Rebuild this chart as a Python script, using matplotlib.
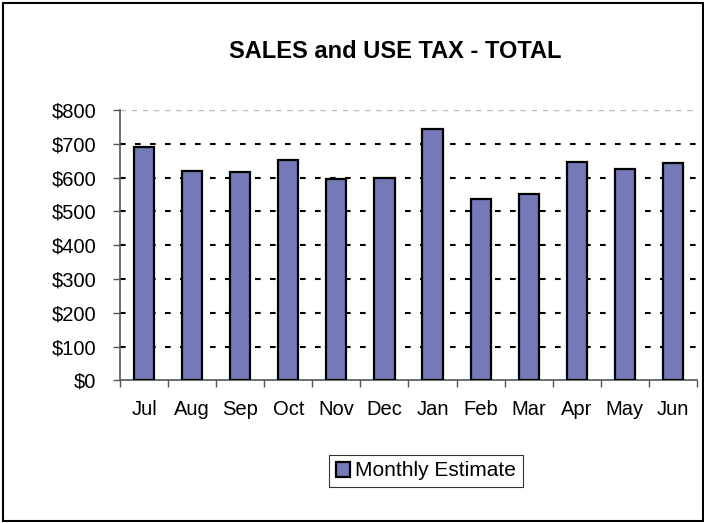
import matplotlib
matplotlib.use('Agg')
import matplotlib.pyplot as plt
from matplotlib.patches import Rectangle
import numpy as np

months = ['Jul', 'Aug', 'Sep', 'Oct', 'Nov', 'Dec', 'Jan', 'Feb', 'Mar', 'Apr', 'May', 'Jun']
monthly_estimate = [692, 621, 618, 653, 597, 600, 744, 538, 551, 645, 624, 644]
y_ticks = [0, 100, 200, 300, 400, 500, 600, 700, 800]

BAR_CLR = '#7579B8'
AXIS_CLR = '#555555'

plt.rcParams['font.family'] = ['Liberation Sans', 'DejaVu Sans']

fig = plt.figure(figsize=(7.04, 5.23), dpi=100)
ax = fig.add_axes([0.1705, 0.2725, 0.8195, 0.5172])

x = np.arange(len(months))
ax.bar(x, monthly_estimate, width=0.42, color=BAR_CLR, edgecolor='black',
       linewidth=1.6, zorder=3, label='Monthly Estimate')

for v in y_ticks[1:-1]:
    ax.axhline(v, color='black', lw=1.5, ls=(0, (2.7, 4.5)), zorder=1)
ax.axhline(y_ticks[-1], color='#bbbbbb', lw=1.0, ls=(0, (4, 4)), zorder=1)

ax.set_xlim(-0.5, len(months) - 0.5)
ax.set_ylim(0, 800)
ax.set_yticks(y_ticks)
ax.set_yticklabels([f'${v}' for v in y_ticks], fontsize=14.5)
ax.set_xticks(x)
ax.set_xticklabels(months, fontsize=14.5)
ax.set_xticks(np.arange(len(months) + 1) - 0.5, minor=True)
ax.tick_params(axis='x', which='major', length=0, pad=14)
ax.tick_params(axis='x', which='minor', length=5, color=AXIS_CLR, width=1)
ax.tick_params(axis='y', length=5, color=AXIS_CLR, width=1, pad=12)

for s in ['top', 'right']:
    ax.spines[s].set_visible(False)
for s in ['left', 'bottom']:
    ax.spines[s].set_color(AXIS_CLR)
    ax.spines[s].set_linewidth(1.2)

fig.text(395 / 704, 1 - 51.5 / 523, 'SALES and USE TAX - TOTAL', ha='center', va='center',
         fontsize=17, fontweight='bold')

leg = fig.legend(loc='center', bbox_to_anchor=(426 / 704, 1 - 471 / 523), fontsize=15,
                 frameon=True, fancybox=False, edgecolor='black', handlelength=0.7,
                 handleheight=0.7, handletextpad=0.25, borderpad=0.3)
leg.get_frame().set_linewidth(0.8)

fig.patches.append(Rectangle((0.004, 0.004), 0.994, 0.99, transform=fig.transFigure,
                             fill=False, edgecolor='black', linewidth=1.5))

fig.savefig('out.png', dpi=100)
